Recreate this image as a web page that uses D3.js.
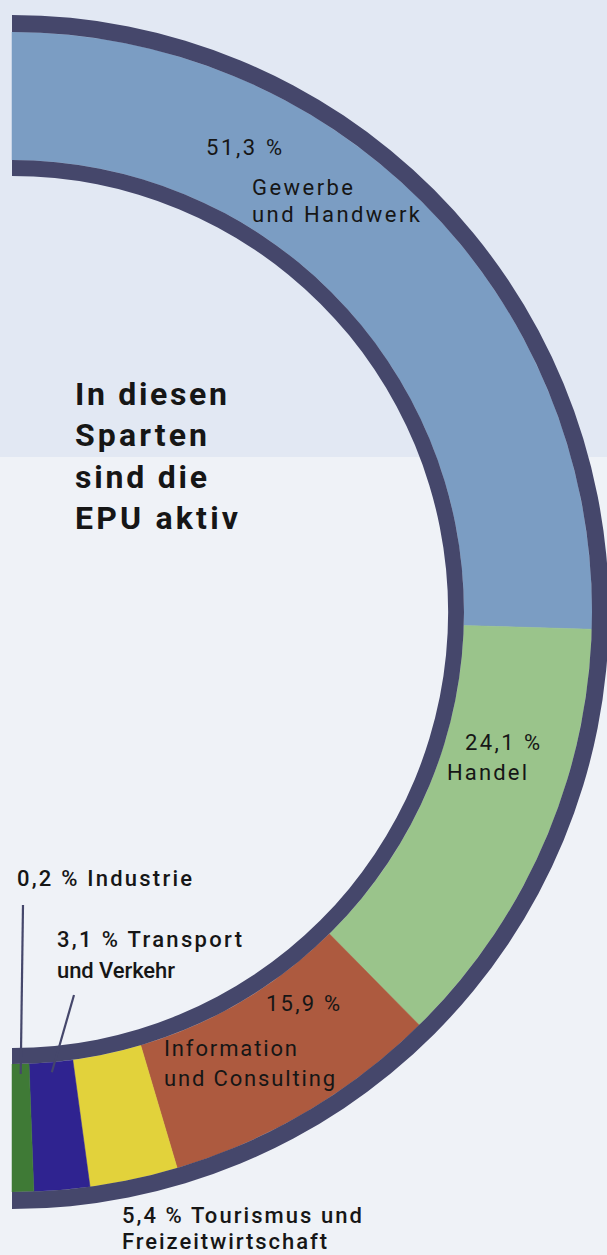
<!DOCTYPE html>
<html>
<head>
<meta charset="utf-8">
<script src="https://cdn.jsdelivr.net/npm/d3@7"></script>
<style>
  html, body { margin: 0; padding: 0; background: #eff2f7; }
  svg { display: block; }
  text { font-family: Roboto, "Liberation Sans", sans-serif; fill: #161616; }
</style>
</head>
<body>
<div id="chart"></div>
<script>
// Sparten der EPU (Anteile in %)
const categories = ["Gewerbe und Handwerk", "Handel", "Information und Consulting",
                    "Tourismus und Freizeitwirtschaft", "Transport und Verkehr", "Industrie"];
const percentLabels = ["51,3 %", "24,1 %", "15,9 %", "5,4 %", "3,1 %", "0,2 %"];
const shares = [51.3, 24.1, 15.9, 5.4, 3.1, 0.2];
// width of each arc as it is drawn in the original (small slices are widened there)
const drawnShares = [51.0, 24.3, 15.6, 4.9, 3.1, 1.2];
const colors = ["#7b9dc3", "#9ac48b", "#ad5a3f", "#e2d23b", "#2f2390", "#3f7a36"];

const width = 607, height = 1255;
const cx = 12, cy = 612;
const rIn = 452, rOut = 580, border = 17;
const navy = "#45476b";

const svg = d3.select("#chart").append("svg")
    .attr("width", width)
    .attr("height", height);

// two-tone background
svg.append("rect").attr("width", width).attr("height", 457).attr("fill", "#e2e8f3");
svg.append("rect").attr("y", 457).attr("width", width).attr("height", height - 457).attr("fill", "#eff2f7");

const g = svg.append("g").attr("transform", `translate(${cx},${cy})`);

const pie = d3.pie().sort(null).startAngle(0).endAngle(Math.PI).value((d, i) => drawnShares[i]);
const arcs = pie(categories);
const arc = d3.arc().innerRadius(rIn).outerRadius(rOut);

g.selectAll("path.slice")
    .data(arcs)
    .enter().append("path")
    .attr("class", "slice")
    .attr("d", arc)
    .attr("fill", (d, i) => colors[i])
    .attr("stroke", (d, i) => colors[i])
    .attr("stroke-width", 0.5);

// dark rims inside and outside
[[rIn - border + 1, rIn], [rOut, rOut + border]].forEach(([a, b]) => {
    g.append("path")
        .attr("d", d3.arc().innerRadius(a).outerRadius(b).startAngle(0).endAngle(Math.PI)())
        .attr("fill", navy);
});

// title
const titleLines = ["In diesen", "Sparten", "sind die", "EPU aktiv"];
const titleWidths = [152, 132, 132, 163];
svg.append("g").selectAll("text")
    .data(titleLines)
    .enter().append("text")
    .attr("x", 75)
    .attr("y", (d, i) => 405 + i * 41.3)
    .attr("textLength", (d, i) => titleWidths[i])
    .attr("lengthAdjust", "spacing")
    .style("font-size", "32px")
    .style("font-weight", "bold")
    .text(d => d);

// label placement: [slice index, line, x, baseline, width]
const labelLayout = [
    [0, "pct", 206, 155, 76], [0, "Gewerbe", 252, 195, 101], [0, "und Handwerk", 252, 222, 168],
    [1, "pct", 465, 750, 75], [1, "Handel", 447, 780, 80],
    [2, "pct", 266, 1011, 74], [2, "Information", 164, 1056, 133], [2, "und Consulting", 164, 1086, 171],
    [3, "pct Tourismus und", 122, 1223, 240], [3, "Freizeitwirtschaft", 122, 1249, 205],
    [4, "pct Transport", 57, 947, 185], [4, "und Verkehr", 57, 978, 118],
    [5, "pct Industrie", 17, 886, 175]
];

svg.append("g").selectAll("text")
    .data(labelLayout)
    .enter().append("text")
    .attr("x", d => d[2])
    .attr("y", d => d[3])
    .attr("textLength", d => d[4])
    .attr("lengthAdjust", "spacing")
    .style("font-size", "22px")
    .style("font-weight", d => d[0] >= 3 ? 500 : 400)
    .text(d => d[1].replace("pct", percentLabels[d[0]]));

// leader lines for the thin slices
const leaders = [[5, 23, 905], [4, 74, 995]];
leaders.forEach(([i, x0, y0]) => {
    const a = arcs[i];
    const mid = (a.startAngle + a.endAngle) / 2;
    const [px, py] = d3.pointRadial(mid, rIn + 10);
    svg.append("line")
        .attr("x1", x0).attr("y1", y0)
        .attr("x2", cx + px).attr("y2", cy + py)
        .attr("stroke", navy)
        .attr("stroke-width", 2.2);
});
</script>
</body>
</html>
